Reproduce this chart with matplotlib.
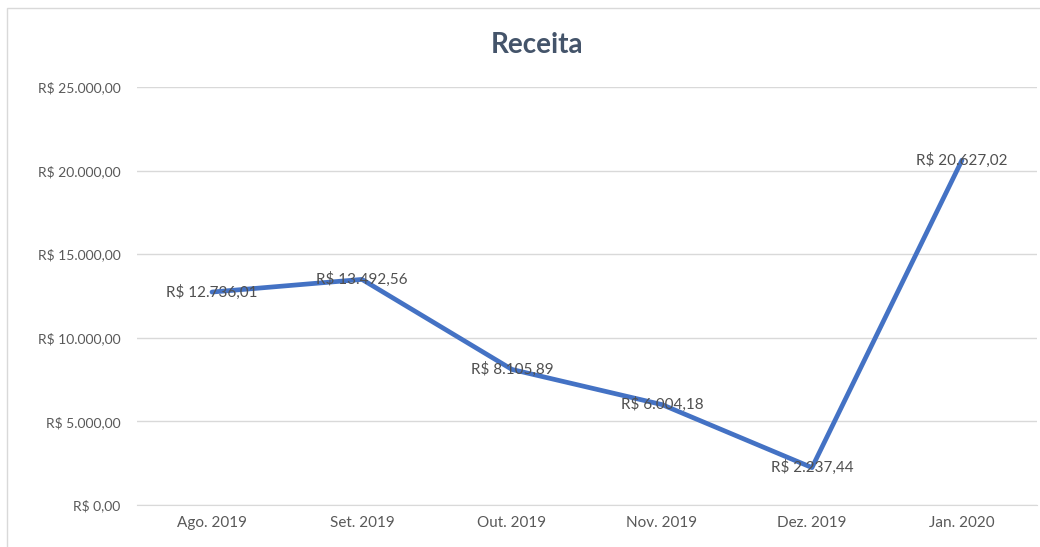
import matplotlib
matplotlib.use("Agg")
import matplotlib.pyplot as plt
from matplotlib.patches import Rectangle

# Dados
meses = ["Ago. 2019", "Set. 2019", "Out. 2019", "Nov. 2019", "Dez. 2019", "Jan. 2020"]
receita = [12736.01, 13492.56, 8105.89, 6004.18, 2237.44, 20627.02]
rotulos = ["R$ 12.736,01", "R$ 13.492,56", "R$ 8.105,89", "R$ 6.004,18", "R$ 2.237,44", "R$ 20.627,02"]
ticks_y = [0, 5000, 10000, 15000, 20000, 25000]
ticks_y_txt = ["R$ 0,00", "R$ 5.000,00", "R$ 10.000,00", "R$ 15.000,00", "R$ 20.000,00", "R$ 25.000,00"]

plt.rcParams['font.family'] = ['Lato', 'DejaVu Sans']

fig = plt.figure(figsize=(10.4, 5.47), dpi=100)
fig.patches.append(Rectangle((7 / 1040, -0.01), 1.02, 1 - 8 / 547 + 0.01, transform=fig.transFigure,
                             fill=False, edgecolor="#D9D9D9", linewidth=1))

ax = fig.add_axes([137 / 1040, 42 / 547, 900 / 1040, 418 / 547])
x = list(range(len(meses)))
ax.plot(x, receita, color="#4472C4", linewidth=3.4, solid_capstyle="round", zorder=2)

# Rótulos de dados centrados nos pontos
for xi, yi, txt in zip(x, receita, rotulos):
    ax.text(xi, yi, txt, ha="center", va="center", fontsize=11, color="#505050", zorder=3)

ax.set_xlim(-0.5, len(meses) - 0.5)
ax.set_ylim(0, 25000)
ax.set_xticks(x, meses, fontsize=11, color="#595959")
ax.set_yticks(ticks_y, ticks_y_txt, fontsize=10, color="#595959")
ax.tick_params(length=0, pad=12)
ax.tick_params(axis="x", pad=8)
ax.grid(axis="y", color="#D9D9D9", linewidth=1)
ax.set_axisbelow(True)
for s in ["top", "right", "left"]:
    ax.spines[s].set_visible(False)
ax.spines["bottom"].set_color("#D9D9D9")

fig.text(537 / 1040, 1 - 45 / 547, "Receita", ha="center", va="center",
         fontsize=20, fontweight="bold", color="#44546A")

fig.savefig("out.png", dpi=100)
